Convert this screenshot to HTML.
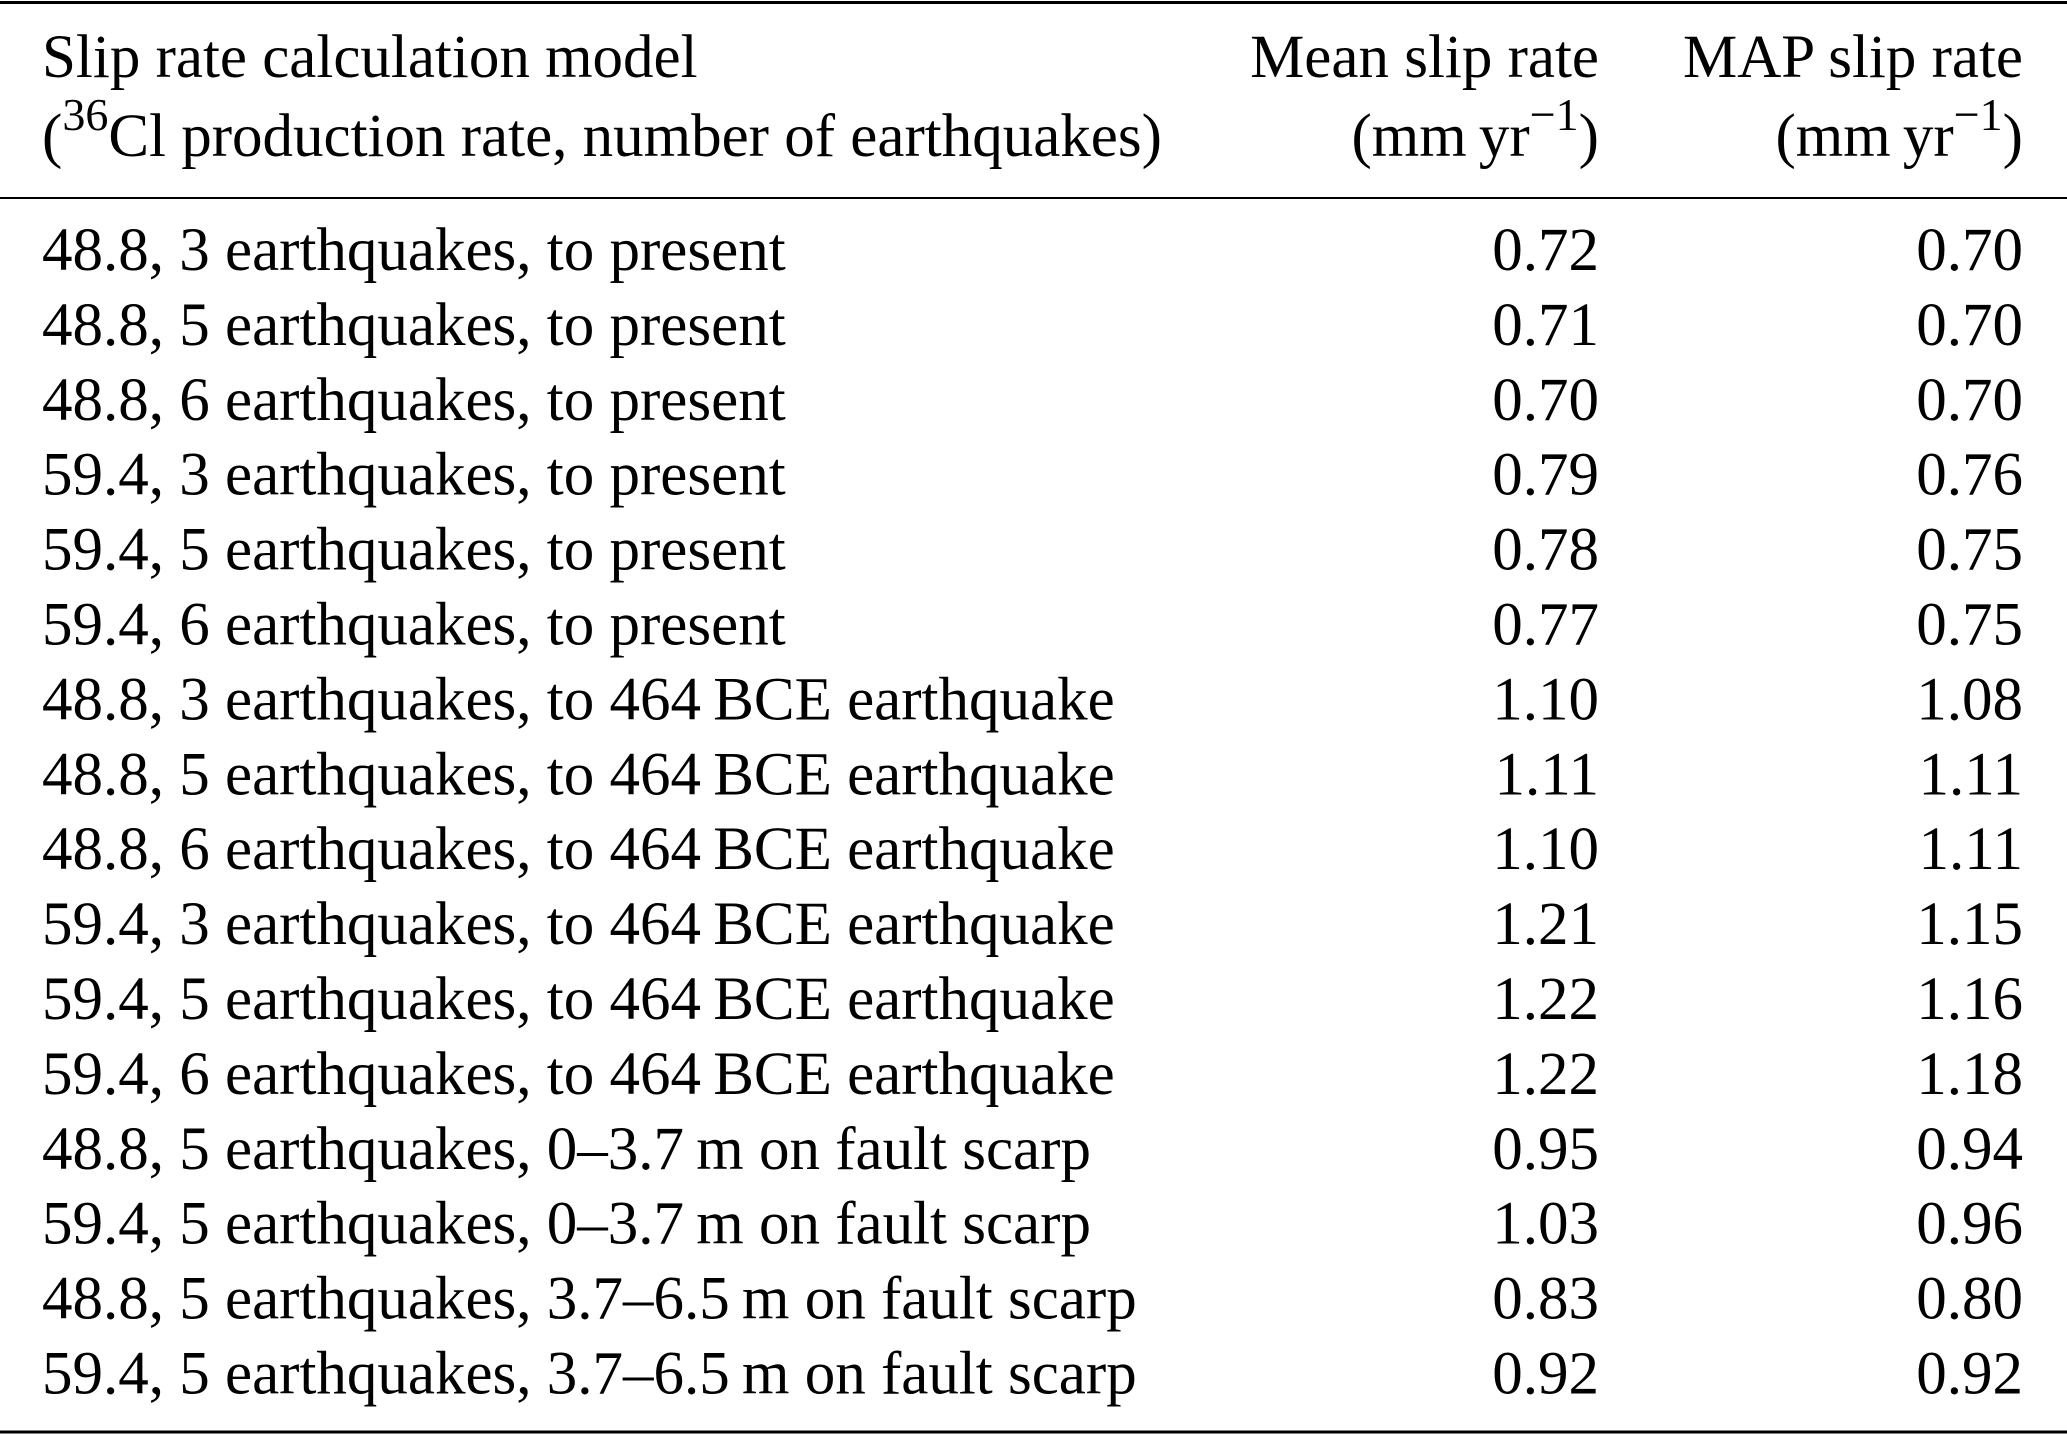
<!DOCTYPE html>
<html><head><meta charset="utf-8"><style>
html,body{margin:0;padding:0;background:#fff;}
svg{display:block;font-family:"Liberation Serif","Times New Roman",serif;}
</style></head><body>
<svg width="2067" height="1436" viewBox="0 0 2067 1436">
<line x1="0" x2="2067" y1="2.5" y2="2.5" stroke="#000" stroke-width="3"/>
<line x1="0" x2="2067" y1="198" y2="198" stroke="#000" stroke-width="2"/>
<line x1="0" x2="2067" y1="1432" y2="1432" stroke="#000" stroke-width="3"/>
<g font-size="61" fill="#000">
<text x="42" y="77">Slip rate calculation model</text>
<text x="42" y="156">(<tspan dy="-26" font-size="46">36</tspan><tspan dy="26">Cl production rate, number of earthquakes)</tspan></text>
<text x="1599" y="77" text-anchor="end">Mean slip rate</text>
<text x="1599" y="156" text-anchor="end">(mm&#8201;yr<tspan dy="-26" font-size="46">−1</tspan><tspan dy="26">)</tspan></text>
<text x="2023" y="77" text-anchor="end">MAP slip rate</text>
<text x="2023" y="156" text-anchor="end">(mm&#8201;yr<tspan dy="-26" font-size="46">−1</tspan><tspan dy="26">)</tspan></text>
</g>
<g id="rows" font-size="61" fill="#000"></g>
</svg>
<script>
const models=["48.8, 3 earthquakes, to present","48.8, 5 earthquakes, to present","48.8, 6 earthquakes, to present","59.4, 3 earthquakes, to present","59.4, 5 earthquakes, to present","59.4, 6 earthquakes, to present","48.8, 3 earthquakes, to 464\u2009BCE earthquake","48.8, 5 earthquakes, to 464\u2009BCE earthquake","48.8, 6 earthquakes, to 464\u2009BCE earthquake","59.4, 3 earthquakes, to 464\u2009BCE earthquake","59.4, 5 earthquakes, to 464\u2009BCE earthquake","59.4, 6 earthquakes, to 464\u2009BCE earthquake","48.8, 5 earthquakes, 0–3.7\u2009m on fault scarp","59.4, 5 earthquakes, 0–3.7\u2009m on fault scarp","48.8, 5 earthquakes, 3.7–6.5\u2009m on fault scarp","59.4, 5 earthquakes, 3.7–6.5\u2009m on fault scarp"];
const meanRates=["0.72","0.71","0.70","0.79","0.78","0.77","1.10","1.11","1.10","1.21","1.22","1.22","0.95","1.03","0.83","0.92"];
const mapRates=["0.70","0.70","0.70","0.76","0.75","0.75","1.08","1.11","1.11","1.15","1.16","1.18","0.94","0.96","0.80","0.92"];
const g=document.getElementById('rows');
const NS="http://www.w3.org/2000/svg";
function rowY(i){return 270+i*74.9;}
models.forEach((m,i)=>{
  const t1=document.createElementNS(NS,'text');
  t1.setAttribute('x',42);t1.setAttribute('y',rowY(i));t1.textContent=m;
  
  
  g.appendChild(t1);
  const t2=document.createElementNS(NS,'text');
  t2.setAttribute('x',1599);t2.setAttribute('y',rowY(i));t2.setAttribute('text-anchor','end');t2.textContent=meanRates[i];
  
  
  g.appendChild(t2);
  const t3=document.createElementNS(NS,'text');
  t3.setAttribute('x',2023);t3.setAttribute('y',rowY(i));t3.setAttribute('text-anchor','end');t3.textContent=mapRates[i];
  
  
  g.appendChild(t3);
});
</script>
</body></html>
